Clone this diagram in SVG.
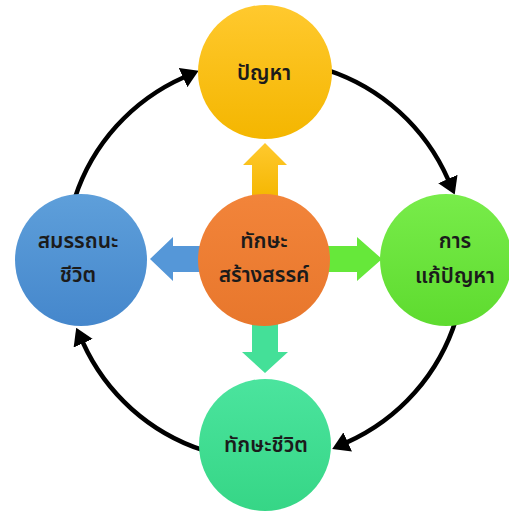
<svg xmlns="http://www.w3.org/2000/svg" width="509" height="513" viewBox="0 0 509 513">
<defs>
<style>
.lbl{font-family:"Noto Sans Thai","Noto Sans","DejaVu Sans",sans-serif;font-size:21px;font-weight:600;fill:#1b1b1b;text-anchor:middle}
.arc{fill:none;stroke:#000;stroke-width:4.5;marker-end:url(#ah)}
</style>
<marker id="ah" markerUnits="userSpaceOnUse" markerWidth="17" markerHeight="21" viewBox="0 0 17 21" refX="1" refY="10.5" orient="auto">
<path d="M0,0 L17,10.5 L0,21 z" fill="#000"/>
</marker>
<linearGradient id="gY" x1="0" y1="0" x2="0" y2="1"><stop offset="0" stop-color="#FFC92E"/><stop offset="1" stop-color="#F4B600"/></linearGradient>
<linearGradient id="gO" x1="0" y1="0" x2="0" y2="1"><stop offset="0" stop-color="#F2843A"/><stop offset="1" stop-color="#E8772C"/></linearGradient>
<linearGradient id="gB" x1="0" y1="0" x2="0" y2="1"><stop offset="0" stop-color="#5E9FDA"/><stop offset="1" stop-color="#4587CC"/></linearGradient>
<linearGradient id="gG" x1="0" y1="0" x2="0" y2="1"><stop offset="0" stop-color="#78EC4A"/><stop offset="1" stop-color="#5EDB2F"/></linearGradient>
<linearGradient id="gT" x1="0" y1="0" x2="0" y2="1"><stop offset="0" stop-color="#4BE49E"/><stop offset="1" stop-color="#36D686"/></linearGradient>
</defs>
<rect width="509" height="513" fill="#fff"/>
<g id="connectors">
<path class="arc" d="M326.8,69.8 A200,200 0 0 1 448.3,179.9"/>
<path class="arc" d="M456.3,318.5 A200,200 0 0 1 346.8,442.4"/>
<path class="arc" d="M203.2,450.2 A200,200 0 0 1 82.8,342.3"/>
<path class="arc" d="M74.8,198.2 A200,200 0 0 1 184,77.2"/>
</g>
<g id="block-arrows">
<polygon id="arrow-up" points="252,200 252,165 243,165 265,143 287,165 278,165 278,200" fill="url(#gY)"/>
<polygon id="arrow-right" points="325,246 357,246 357,237 382,259 357,281 357,272 325,272" fill="#66E83A"/>
<polygon id="arrow-left" points="205,246 173,246 173,237 150,259 173,281 173,272 205,272" fill="#5597D8"/>
<polygon id="arrow-down" points="252,320 252,352 242,352 265,373 288,352 278,352 278,320" fill="#44E098"/>
</g>
<g id="node-problem">
<circle cx="265" cy="72" r="67" fill="url(#gY)"/>
<text class="lbl" x="264" y="80">ปัญหา</text>
</g>
<g id="node-creative">
<circle cx="264" cy="260" r="66" fill="url(#gO)"/>
<text class="lbl" x="264" y="248">ทักษะ</text>
<text class="lbl" x="264" y="282">สร้างสรรค์</text>
</g>
<g id="node-competency">
<circle cx="81" cy="260" r="66" fill="url(#gB)"/>
<text class="lbl" x="78" y="248">สมรรถนะ</text>
<text class="lbl" x="78" y="282">ชีวิต</text>
</g>
<g id="node-solving">
<circle cx="446" cy="260" r="66" fill="url(#gG)"/>
<text class="lbl" x="455" y="248">การ</text>
<text class="lbl" x="455" y="283">แก้ปัญหา</text>
</g>
<g id="node-lifeskill">
<circle cx="265" cy="445" r="66" fill="url(#gT)"/>
<text class="lbl" x="266" y="452">ทักษะชีวิต</text>
</g>
</svg>
